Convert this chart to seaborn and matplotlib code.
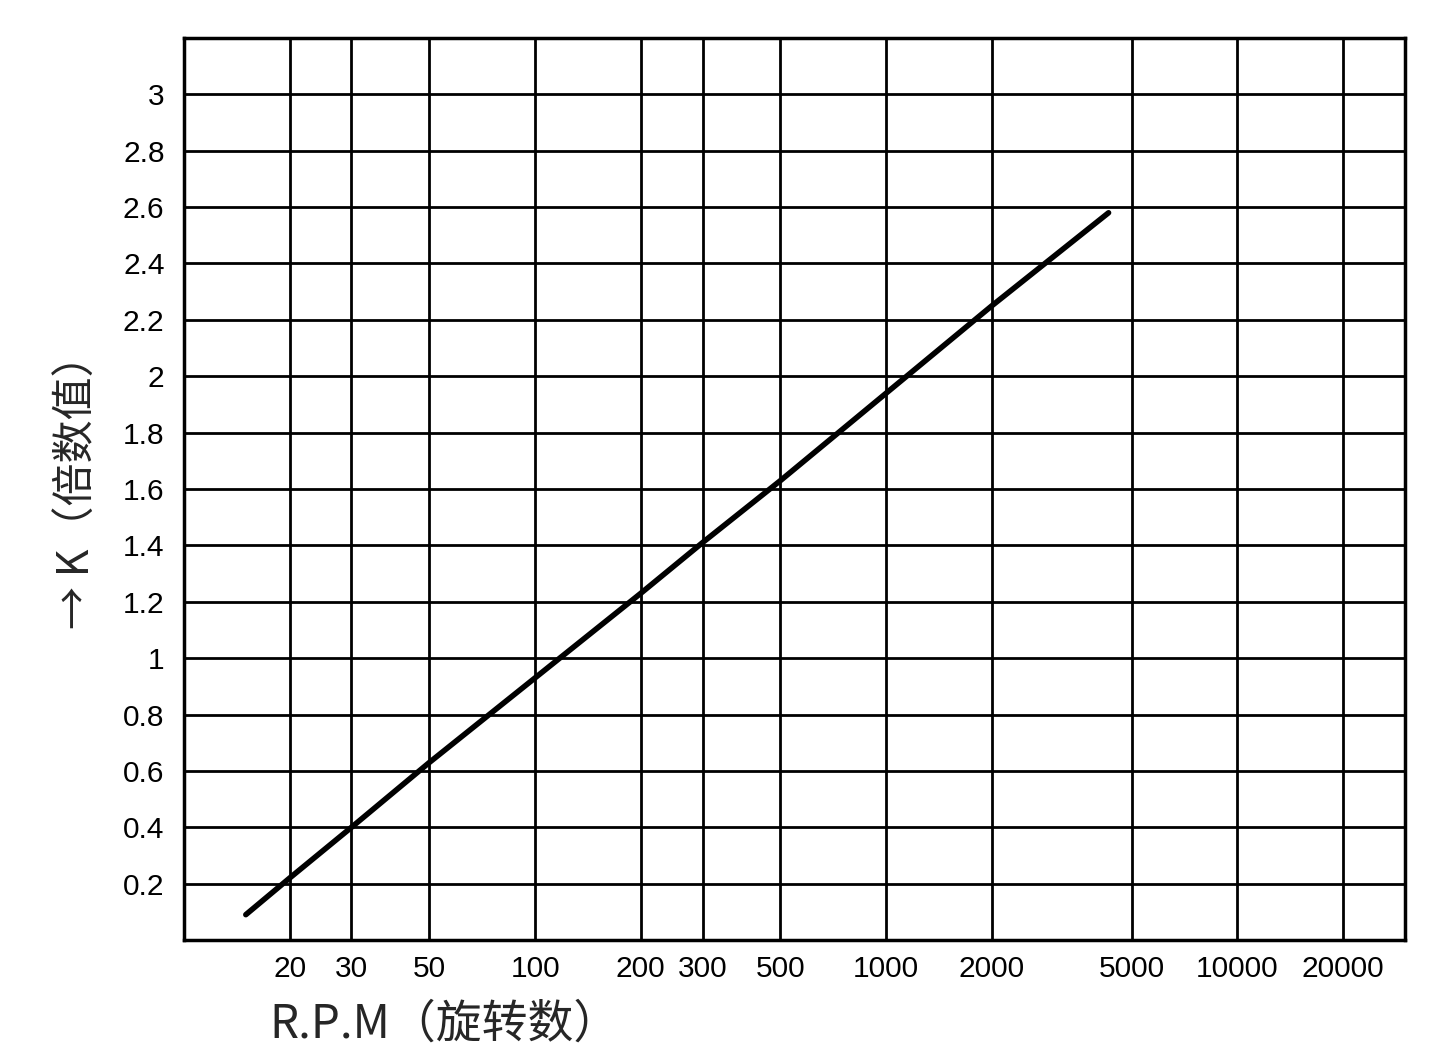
import matplotlib
matplotlib.use("Agg")
import matplotlib.pyplot as plt
import seaborn as sns
import pandas as pd
from matplotlib.ticker import FixedLocator, FixedFormatter, NullLocator

# data
rpm = [15, 20, 30, 50, 100, 200, 300, 500, 1000, 2000, 4300]
k_value = [0.09, 0.22, 0.40, 0.63, 0.93, 1.23, 1.41, 1.63, 1.94, 2.25, 2.58]

x_ticks = [20, 30, 50, 100, 200, 300, 500, 1000, 2000, 5000, 10000, 20000]
x_labels = ["20", "30", "50", "100", "200", "300", "500", "1000", "2000", "5000", "10000", "20000"]
y_ticks = [0.2, 0.4, 0.6, 0.8, 1.0, 1.2, 1.4, 1.6, 1.8, 2.0, 2.2, 2.4, 2.6, 2.8, 3.0]
y_labels = ["0.2", "0.4", "0.6", "0.8", "1", "1.2", "1.4", "1.6", "1.8", "2", "2.2", "2.4", "2.6", "2.8", "3"]

sns.set_theme(style="white")
plt.rcParams["font.family"] = ["Liberation Sans", "Noto Sans CJK SC", "DejaVu Sans"]

df = pd.DataFrame({"rpm": rpm, "k": k_value})

fig = plt.figure(figsize=(14.43, 10.64), dpi=100)
ax = fig.add_axes([0.1275, 0.1165, 0.846, 0.8478])

sns.lineplot(data=df, x="rpm", y="k", ax=ax, color="black", linewidth=4)

ax.set_xscale("log")
ax.set_xlim(10, 30000)
ax.set_ylim(0, 3.2)

ax.xaxis.set_major_locator(FixedLocator(x_ticks))
ax.xaxis.set_major_formatter(FixedFormatter(x_labels))
ax.xaxis.set_minor_locator(NullLocator())
ax.yaxis.set_major_locator(FixedLocator(y_ticks))
ax.yaxis.set_major_formatter(FixedFormatter(y_labels))

ax.grid(True, which="major", color="black", linewidth=2)
ax.set_axisbelow(True)
for s in ax.spines.values():
    s.set_color("black")
    s.set_linewidth(2.5)

ax.tick_params(axis="both", length=0, labelsize=21.5, colors="black")
ax.tick_params(axis="x", pad=11)
ax.tick_params(axis="y", pad=14)

ax.set_xlabel("")
ax.set_ylabel("")
label_family = ["Noto Sans CJK SC", "DejaVu Sans"]
fig.text(0.187, 0.037, "R.P.M（旋转数）", fontsize=33, ha="left", va="center",
         family=label_family)
fig.text(0.054, 0.548, "→ K（倍数值）", fontsize=31, rotation=90, ha="center", va="center",
         family=label_family)

fig.savefig("out.png", dpi=100)
